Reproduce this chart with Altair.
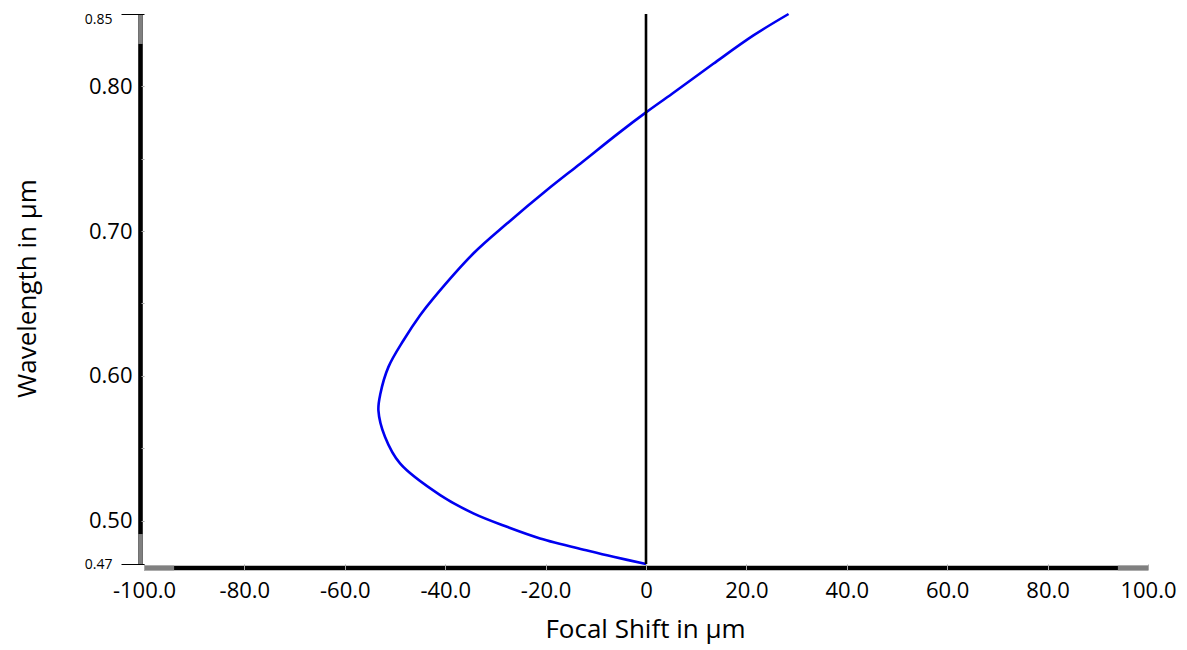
import altair as alt
import pandas as pd

# Curve (wavelength in µm, focal shift in µm)
wavelength = [0.470, 0.475, 0.4792, 0.4877, 0.4957, 0.505, 0.5176, 0.5395, 0.5579,
              0.576, 0.5878, 0.6062, 0.6246, 0.6419, 0.6534, 0.6845, 0.7052, 0.7282,
              0.7466, 0.7684, 0.782, 0.7949, 0.8156, 0.8352, 0.850]
focal_shift = [0.0, -6.5, -11.5, -21.1, -27.7, -34.4, -41.0, -49.0, -52.0,
               -53.3, -52.9, -51.3, -48.3, -45.0, -42.4, -34.4, -27.7, -19.8,
               -13.1, -5.2, 0.0, 5.2, 13.4, 21.4, 28.4]

x_ticks = [-100, -80, -60, -40, -20, 0, 20, 40, 60, 80, 100]
y_ticks = [0.47, 0.50, 0.55, 0.60, 0.65, 0.70, 0.75, 0.80, 0.85]

X_MIN, X_MAX = -100, 100
Y_MIN, Y_MAX = 0.47, 0.85

curve = pd.DataFrame({"shift": focal_shift, "wl": wavelength, "ord": range(len(wavelength))})

FONT = "Open Sans"
END_TEST = "round(datum.value*100)==47 || round(datum.value*100)==85"
TOP_TEST = "round(datum.value*100)==85"

xscale = alt.Scale(domain=[X_MIN, X_MAX], nice=False, zero=False)
yscale = alt.Scale(domain=[Y_MIN, Y_MAX], nice=False, zero=False)

x_axis = alt.Axis(
    values=x_ticks,
    labelExpr="datum.value == 0 ? '0' : (datum.value < 0 ? '-' + format(-datum.value, '.1f') : format(datum.value, '.1f'))",
    labelFontSize=22, labelColor="black", labelFont=FONT,
    labelFlush=False, labelOverlap=False, labelPadding=10,
    tickColor="#a8a8a8", tickSize=6, tickWidth=1,
    domain=False, grid=False,
    title="Focal Shift in µm", titleFontSize=26, titleFont=FONT,
    titleFontWeight="normal", titleColor="black",
    titleX=501, titleY=73, titleBaseline="alphabetic", titleAlign="center",
    zindex=1,
)

y_axis = alt.Axis(
    values=y_ticks,
    labelExpr="(round(datum.value*100) % 10 == 0 || " + END_TEST + ") ? format(datum.value, '.2f') : ''",
    labelFontSize={"condition": {"test": END_TEST, "value": 14}, "value": 22},
    labelOffset={"condition": {"test": TOP_TEST, "value": 5}, "value": 0},
    labelColor="black", labelFont=FONT,
    labelFlush=False, labelOverlap=False, labelPadding=9,
    tickColor={"condition": {"test": END_TEST, "value": "black"}, "value": "#a8a8a8"},
    tickSize={"condition": {"test": END_TEST, "value": 23}, "value": 3},
    tickWidth=1,
    domain=False, grid=False,
    title="Wavelength in µm", titleFontSize=26, titleFont=FONT,
    titleFontWeight="normal", titleColor="black",
    titleAngle=270, titleX=-109, titleY=274, titleBaseline="alphabetic", titleAlign="center",
    zindex=1,
)


def X(field):
    return alt.X(field, scale=xscale, axis=x_axis)


def Y(field):
    return alt.Y(field, scale=yscale, axis=y_axis)


line = alt.Chart(curve).mark_line(
    color="#0000f0", strokeWidth=2.6, interpolate="catmull-rom"
).encode(
    x=X("shift:Q"),
    y=Y("wl:Q"),
    order="ord:Q",
)

zero_df = pd.DataFrame({"shift": [0.0], "wl": [Y_MIN], "wl2": [Y_MAX]})
zero_rule = alt.Chart(zero_df).mark_rule(color="black", strokeWidth=2.6).encode(
    x=X("shift:Q"), y=Y("wl:Q"), y2="wl2:Q",
)

# Thick axis lines with grey end segments
yaxis_df = pd.DataFrame({"shift": [X_MIN], "wl": [Y_MIN], "wl2": [Y_MAX]})
yaxis_line = alt.Chart(yaxis_df).mark_rule(color="black", strokeWidth=4.6, xOffset=-3.5).encode(
    x=X("shift:Q"), y=Y("wl:Q"), y2="wl2:Q",
)
yaxis_grey_df = pd.DataFrame({"shift": [X_MIN, X_MIN], "wl": [Y_MIN, 0.8293], "wl2": [0.4907, Y_MAX]})
yaxis_grey = alt.Chart(yaxis_grey_df).mark_rule(color="#808080", strokeWidth=4.6, xOffset=-3.5).encode(
    x=X("shift:Q"), y=Y("wl:Q"), y2="wl2:Q",
)

xaxis_df = pd.DataFrame({"shift": [X_MIN], "shift2": [X_MAX], "wl": [Y_MIN]})
xaxis_line = alt.Chart(xaxis_df).mark_rule(color="black", strokeWidth=4.6, yOffset=4).encode(
    x=X("shift:Q"), x2="shift2:Q", y=Y("wl:Q"),
)
xaxis_grey_df = pd.DataFrame({"shift": [X_MIN, 94.0], "shift2": [-94.0, X_MAX], "wl": [Y_MIN, Y_MIN]})
xaxis_grey = alt.Chart(xaxis_grey_df).mark_rule(color="#808080", strokeWidth=4.6, yOffset=4).encode(
    x=X("shift:Q"), x2="shift2:Q", y=Y("wl:Q"),
)

chart = alt.layer(
    line, yaxis_line, yaxis_grey, xaxis_line, xaxis_grey, zero_rule
).properties(
    width=1004, height=550,
    autosize=alt.AutoSizeParams(type="none"),
    padding={"left": 136, "top": 6, "right": 30, "bottom": 80},
).configure(
    font=FONT, background="white",
    view=alt.ViewConfig(stroke="transparent", strokeWidth=0),
)

chart.save("out.html", embed_options={"renderer": "svg", "actions": False})
